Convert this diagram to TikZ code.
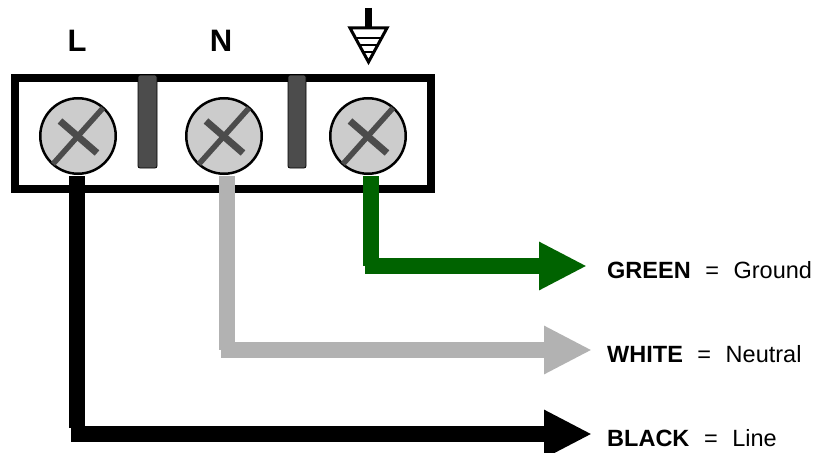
\documentclass[tikz,border=0pt]{standalone}
\usepackage{fontspec}
\setmainfont{Liberation Sans}
\usetikzlibrary{arrows.meta}

\begin{document}
\begin{tikzpicture}
		[x=1pt,y=-1pt,line cap=butt,
		%Styles
		terminal box/.style={line width=8pt,line join=miter},
		divider/.style={draw=black,line width=.8pt,fill=slotcolor,rounded corners=2pt},
		screw node/.style={circle,draw,line width=2.5pt,fill=screwcolor,minimum size=75.5pt,inner sep=0pt},
		long slot/.style={draw=slotcolor,line width=5.5pt},
		short slot/.style={draw=slotcolor,line width=7pt},
		wire/.style={line width=16pt},
		arrow wire/.style={line width=16pt,-{Triangle[length=48pt,width=45pt]}},
		terminal text/.style={font=\fontsize{31}{33}\selectfont\bfseries,inner sep=0pt},
		legend text/.style={font=\fontsize{23.5}{26}\selectfont,anchor=base west,inner sep=0pt}
		]
		
		%Colors
		\colorlet{slotcolor}{black!70}
		\colorlet{screwcolor}{black!20}
		\colorlet{greenwire}{green!39!black}
		\colorlet{whitewire}{black!30}
		
		\useasboundingbox (0,0) rectangle (813,452);
		
		%The graphic
		\draw[terminal box] (15,78) rectangle (431,189);
		\draw[divider] (138,75) rectangle (157,168);
		\draw[divider] (288,75) rectangle (306,168);
		
		\node[screw node] (L) at (78,136) {};
		\node[screw node] (N) at (224,136) {};
		\node[screw node] (E) at (368,136) {};
		
		\draw[long slot,shift={(L)}] (-25,28) -- (25,-28);
		\draw[short slot,shift={(L)}] (-18,-15) -- (19,17);
		\draw[long slot,shift={(N)}] (-25,28) -- (25,-28);
		\draw[short slot,shift={(N)}] (-18,-15) -- (19,17);
		\draw[long slot,shift={(E)}] (-25,28) -- (25,-28);
		\draw[short slot,shift={(E)}] (-18,-15) -- (19,17);
		
		\node[terminal text] (textL) at (77,41) {L};
		\node[terminal text] (textN) at (221,41) {N};
		
		%Ground sign
		\draw[line width=7pt] (368.5,8) -- (368.5,27);
		\draw[line width=3pt,line join=miter] (350,28) -- (387,28) -- (368.5,62) -- cycle;
		\draw[line width=2pt] (355.5,38) -- (381.5,38);
		\draw[line width=2pt] (359.5,45) -- (377.5,45);
		\draw[line width=2pt] (363,52) -- (374,52);
		
		%Wires
		\coordinate (startE) at (371,176);
		\coordinate (cornerE) at (371,266);
		\coordinate (bendE) at (365,266);
		\coordinate (tipE) at (587,266);
		\coordinate (startN) at (227,176);
		\coordinate (cornerN) at (227,350);
		\coordinate (bendN) at (221,350);
		\coordinate (tipN) at (592,350);
		\coordinate (startL) at (77,176);
		\coordinate (cornerL) at (77,428);
		\coordinate (bendL) at (71,434);
		\coordinate (tipL) at (592,434);
		
		\draw[wire,greenwire] (startE) -- (cornerE);
		\draw[arrow wire,greenwire] (bendE) -- (tipE);
		\draw[wire,whitewire] (startN) -- (cornerN);
		\draw[arrow wire,whitewire] (bendN) -- (tipN);
		\draw[wire,black] (startL) -- (cornerL);
		\draw[arrow wire,black] (bendL) -- (tipL);
		
		\node[legend text] (textE) at (607,278) {\textbf{GREEN}\hspace{1.5pt}\ \ =\hspace{1.5pt}\ \ Ground};
		\node[legend text] (textW) at (607,362) {\textbf{WHITE}\hspace{1.5pt}\ \ =\hspace{1.5pt}\ \ Neutral};
		\node[legend text] (textB) at (607,446) {\textbf{BLACK}\hspace{1.5pt}\ \ =\hspace{1.5pt}\ \ Line};
	\end{tikzpicture}
\end{document}
